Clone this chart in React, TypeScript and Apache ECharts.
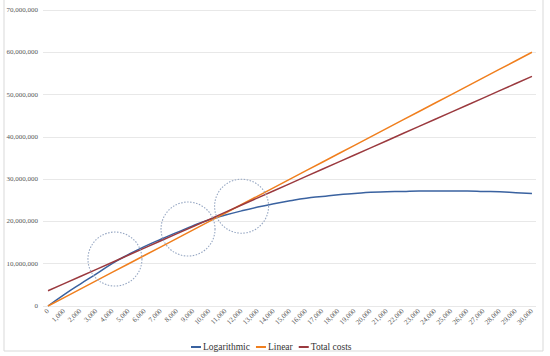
import React, { useEffect, useRef } from "react";
import * as echarts from "echarts";

const xValues = [0,1000,2000,3000,4000,5000,6000,7000,8000,9000,10000,11000,12000,13000,14000,15000,16000,17000,18000,19000,20000,21000,22000,23000,24000,25000,26000,27000,28000,29000,30000];
const logarithmic = [0,2.7,5.2,7.6,10.1,12.2,14.1,15.8,17.4,19.0,20.4,21.5,22.5,23.4,24.2,24.9,25.5,25.9,26.3,26.6,26.9,27.0,27.1,27.2,27.2,27.2,27.2,27.1,27.0,26.8,26.6];
const linear = [0,2,4,6,8,10,12,14,16,18,20,22,24,26,28,30,32,34,36,38,40,42,44,46,48,50,52,54,56,58,60];
const totalCosts = [3.6,5.29,6.98,8.67,10.36,12.05,13.74,15.43,17.12,18.81,20.5,22.19,23.88,25.57,27.26,28.95,30.64,32.33,34.02,35.71,37.4,39.09,40.78,42.47,44.16,45.85,47.54,49.23,50.92,52.61,54.3];
const circleMarks = [[4150, 11.1], [8680, 18.2], [12000, 23.6]];
const MILLION = 1000000;

const fmt = (v: number) => Math.round(v).toLocaleString("en-US");
const FONT = "'Liberation Serif', 'Times New Roman', serif";

export default function App() {
  const ref = useRef<HTMLDivElement>(null);
  useEffect(() => {
    if (!ref.current) return;
    const chart = echarts.init(ref.current, undefined, { renderer: "svg" });
    const pairs = (arr: number[]) => arr.map((v, i) => [xValues[i], v * MILLION]);
    chart.setOption({
      animation: false,
      backgroundColor: "#ffffff",
      textStyle: { fontFamily: FONT },
      grid: { left: 43, right: 14, top: 10, bottom: 50 },
      xAxis: {
        type: "value",
        min: -310,
        max: 30250,
        axisLine: { show: false },
        axisTick: { show: false },
        splitLine: { show: false },
        axisLabel: {
          customValues: xValues,
          rotate: 45,
          fontSize: 7,
          color: "#595959",
          fontFamily: FONT,
          margin: 4,
          formatter: (v: number) => fmt(v),
        },
      },
      yAxis: {
        type: "value",
        min: 0,
        max: 70 * MILLION,
        interval: 10 * MILLION,
        axisLine: { show: false },
        axisTick: { show: false },
        splitLine: { lineStyle: { color: "#e8e8e8", width: 1 } },
        axisLabel: {
          fontSize: 7,
          color: "#595959",
          fontFamily: FONT,
          margin: 5,
          formatter: (v: number) => fmt(v),
        },
      },
      legend: {
        left: 186,
        top: 337,
        itemWidth: 10,
        itemHeight: 2,
        itemGap: 6,
        icon: "rect",
        textStyle: { fontSize: 9.5, color: "#333333", fontFamily: FONT, padding: [0, 0, 0, -3] },
        data: ["Logarithmic", "Linear", "Total costs"],
      },
      series: [
        {
          name: "Logarithmic",
          type: "line",
          smooth: true,
          showSymbol: false,
          data: pairs(logarithmic),
          lineStyle: { color: "#3a62a0", width: 1.5 },
          itemStyle: { color: "#3a62a0" },
        },
        {
          name: "Linear",
          type: "line",
          showSymbol: false,
          data: pairs(linear),
          lineStyle: { color: "#f07f1e", width: 1.5 },
          itemStyle: { color: "#f07f1e" },
          markPoint: {
            silent: true,
            symbol: "circle",
            symbolSize: 54,
            label: { show: false },
            itemStyle: { color: "rgba(0,0,0,0)", borderColor: "#95a6c2", borderWidth: 1.1, borderType: [1.5, 1.5] },
            data: circleMarks.map((c) => ({ coord: [c[0], c[1] * MILLION] })),
          },
        },
        {
          name: "Total costs",
          type: "line",
          showSymbol: false,
          data: pairs(totalCosts),
          lineStyle: { color: "#9b3a3f", width: 1.5 },
          itemStyle: { color: "#9b3a3f" },
        },
      ],
      graphic: [
        {
          type: "rect",
          shape: { x: 4, y: -2, width: 539, height: 353 },
          style: { fill: "none", stroke: "#d9d9d9", lineWidth: 1 },
          silent: true,
        },
      ],
    });
    return () => chart.dispose();
  }, []);
  return <div ref={ref} style={{ position: "fixed", left: 0, top: 0, width: 550, height: 356 }} />;
}
